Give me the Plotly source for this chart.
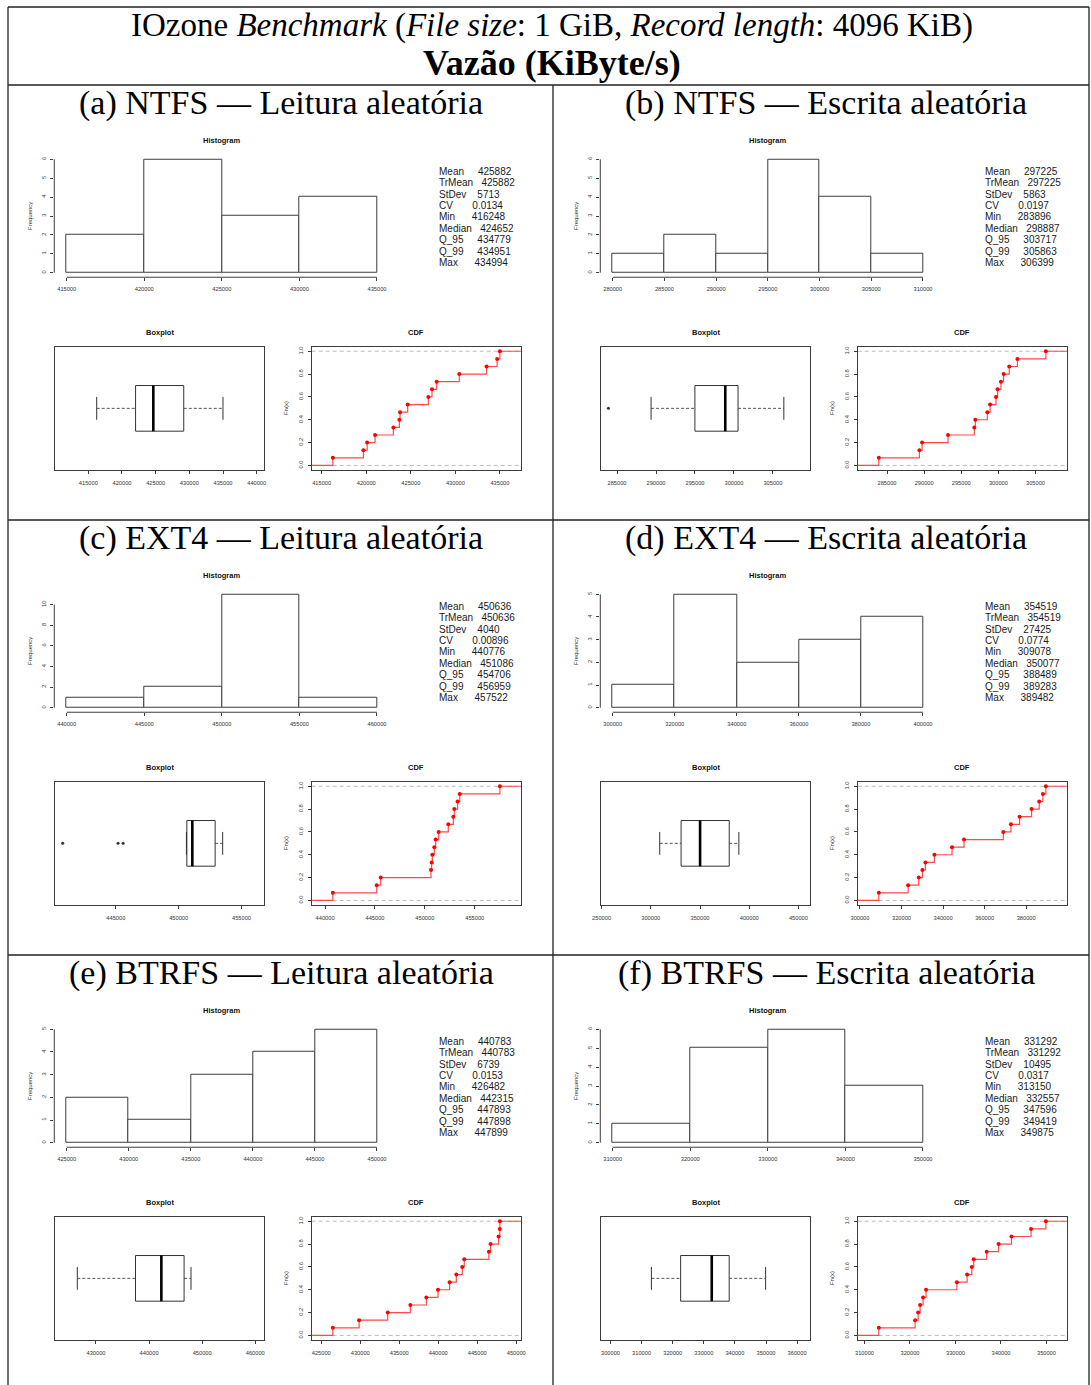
import numpy as np
import plotly.graph_objects as go

W, H = 1091, 1385

# ---------------- data: 15 runs each, throughput in KiB/s ----------------
ntfs_read = [416248, 419683, 420100, 420990, 423044, 423716, 423791, 424652,
             426965, 427376, 427899, 430438, 433500, 434687, 434994]
ntfs_write = [283896, 289364, 289723, 293219, 296760, 296895, 298508, 298887,
              299673, 299897, 300345, 300704, 301466, 302567, 306399]
ext4_read = [440776, 445179, 445580, 450617, 450684, 450750, 450950, 451086,
             451384, 452351, 452852, 452952, 453285, 453499, 457522]
ext4_write = [309078, 323173, 328298, 330060, 331501, 335826, 344315, 350077,
              369000, 372663, 376828, 382594, 386278, 388063, 389482]
btrfs_read = [426482, 429852, 433522, 436423, 438471, 439964, 441457, 442315,
              443078, 443334, 446491, 446705, 447729, 447890, 447899]
btrfs_write = [313150, 321135, 321790, 322227, 322882, 323537, 330306, 332557,
               333581, 334017, 336856, 339476, 342314, 346619, 349875]

stat_labels = ["Mean", "TrMean", "StDev", "CV", "Min", "Median", "Q_95", "Q_99", "Max"]
stats_ntfs_read = ["425882", "425882", "5713", "0.0134", "416248", "424652", "434779", "434951", "434994"]
stats_ntfs_write = ["297225", "297225", "5863", "0.0197", "283896", "298887", "303717", "305863", "306399"]
stats_ext4_read = ["450636", "450636", "4040", "0.00896", "440776", "451086", "454706", "456959", "457522"]
stats_ext4_write = ["354519", "354519", "27425", "0.0774", "309078", "350077", "388489", "389283", "389482"]
stats_btrfs_read = ["440783", "440783", "6739", "0.0153", "426482", "442315", "447893", "447898", "447899"]
stats_btrfs_write = ["331292", "331292", "10495", "0.0317", "313150", "332557", "347596", "349419", "349875"]

panel_titles = ["(a) NTFS — Leitura aleatória", "(b) NTFS — Escrita aleatória",
                "(c) EXT4 — Leitura aleatória", "(d) EXT4 — Escrita aleatória",
                "(e) BTRFS — Leitura aleatória", "(f) BTRFS — Escrita aleatória"]
title_line1 = "IOzone <i>Benchmark</i> (<i>File size</i>: 1 GiB, <i>Record length</i>: 4096 KiB)"
title_line2 = "<b>Vazão (KiByte/s)</b>"

hist_start = [415000, 280000, 440000, 300000, 425000, 310000]
hist_end = [435000, 310000, 460000, 400000, 450000, 350000]
hist_size = [5000, 5000, 5000, 20000, 5000, 10000]
hist_ytick_step = [1, 1, 2, 1, 1, 1]
box_xlim = [(410056, 441084), (282943, 309756), (440164, 456787),
            (249435, 461746), (422282, 461649), (296945, 364147)]
box_dtick = [5000, 5000, 5000, 50000, 10000, 10000]
cdf_dtick = [5000, 5000, 5000, 20000, 5000, 10000]

datasets = [ntfs_read, ntfs_write, ext4_read, ext4_write, btrfs_read, btrfs_write]
stats = [stats_ntfs_read, stats_ntfs_write, stats_ext4_read, stats_ext4_write,
         stats_btrfs_read, stats_btrfs_write]

# ---------------- geometry (pixels, panel (a) reference) ----------------
COL_DX = [0, 546]
ROW_DY = [0, 435, 870]
HIST_TICK_X = (66.7, 377.0)
HIST_ZERO_Y, HIST_TOP_Y = 272.7, 159.3
BOX_FRAME_X = (55.0, 264.0)
CDF_FRAME_X = (311.7, 521.0)
LOW_FRAME_Y = (346.7, 470.0)
STATS_X, STATS_Y0, STATS_DY = 437.0, 171.3, 11.42
SUBTITLE_Y = 332.3
HIST_TITLE_Y = 140.0
PANEL_TITLE_Y = 103.0
PANEL_TITLE_X = [281.0, 826.0]

LINE = "#3c3c3c"
SANS = "Liberation Sans, Arial, sans-serif"
SERIF = "Liberation Serif, Times New Roman, serif"
TICKFONT = dict(family=SANS, size=5.7, color="#333")


def fx(p):
    return p / W


def fy(p):
    return 1 - p / H


def keys(k):
    s = "" if k == 1 else str(k)
    return "x" + s, "y" + s, "xaxis" + s, "yaxis" + s


def fivenum(v):
    x = np.sort(np.asarray(v, float))
    n = len(x)
    n4 = np.floor((n + 3) / 2) / 2
    d = np.array([1, n4, (n + 1) / 2, n + 1 - n4, n]) - 1
    return 0.5 * (x[np.floor(d).astype(int)] + x[np.ceil(d).astype(int)])


def ecdf_xlim(v):
    x = np.sort(np.asarray(v, float))
    r = x[-1] - x[0]
    dr = max(0.08 * r, np.median(np.diff(np.unique(x))))
    lo, hi = x[0] - dr, x[-1] + dr
    pad = 0.04 * (hi - lo)
    return lo - pad, hi + pad


fig = go.Figure()
layout_axes = {}
shapes = []
annotations = []


def ann(text, x, y, size, family=SANS, color="#111", xanchor="center", angle=0):
    annotations.append(dict(text=text, x=fx(x), y=fy(y), xref="paper", yref="paper",
                            showarrow=False, xanchor=xanchor, yanchor="middle",
                            textangle=angle, font=dict(family=family, size=size, color=color)))


def axis(**kw):
    d = dict(showgrid=False, zeroline=False, showline=False, ticks="", showticklabels=False,
             tickfont=TICKFONT, fixedrange=True, tickcolor=LINE, ticklen=3, tickwidth=1,
             automargin=False)
    d.update(kw)
    return d


for p, vals in enumerate(datasets):
    col, row = p % 2, p // 2
    dx, dy = COL_DX[col], ROW_DY[row]
    v = np.asarray(vals, float)

    # ---------- histogram ----------
    k = 3 * p + 1
    xa, ya, xk, yk = keys(k)
    b0, bn, sz = hist_start[p], hist_end[p], hist_size[p]
    edges = np.arange(b0, bn + sz / 2, sz)
    counts, _ = np.histogram(v, bins=edges)
    M = counts.max()
    span_px = HIST_TICK_X[1] - HIST_TICK_X[0]
    hx0, hx1 = HIST_TICK_X[0] - 0.04 * span_px + dx, HIST_TICK_X[1] + 0.04 * span_px + dx
    vspan = HIST_ZERO_Y - HIST_TOP_Y
    hy_top, hy_bot = HIST_TOP_Y - 0.04 * vspan + dy, HIST_ZERO_Y + 0.04 * vspan + dy
    fig.add_trace(go.Histogram(x=v, xbins=dict(start=b0, end=bn, size=sz), autobinx=False,
                               marker=dict(color="white", line=dict(color=LINE, width=1)),
                               xaxis=xa, yaxis=ya, hoverinfo="skip", showlegend=False))
    step = hist_ytick_step[p]
    yt = np.arange(0, M + 0.001, step)
    layout_axes[xk] = axis(domain=[fx(hx0), fx(hx1)], anchor=ya,
                           range=[b0 - 0.04 * (bn - b0), bn + 0.04 * (bn - b0)],
                           tickvals=list(edges), ticks="outside", showticklabels=True,
                           tickformat="d", ticklabelstandoff=3)
    layout_axes[yk] = axis(domain=[fy(hy_bot), fy(hy_top)], anchor=xa,
                           range=[-0.04 * M, 1.04 * M], tickvals=list(yt),
                           ticks="outside", showticklabels=True, tickangle=-90,
                           ticklabelstandoff=2)
    shapes.append(dict(type="line", xref=xa, yref=ya + " domain", x0=b0, x1=bn, y0=0, y1=0,
                       line=dict(color=LINE, width=1)))
    shapes.append(dict(type="line", xref=xa + " domain", yref=ya, x0=0, x1=0, y0=0, y1=yt[-1],
                       line=dict(color=LINE, width=1)))
    ann("<b>Histogram</b>", (HIST_TICK_X[0] + HIST_TICK_X[1]) / 2 + dx, HIST_TITLE_Y + dy, 7.5)
    ann("Frequency", 30 + dx, (hy_top + hy_bot) / 2, 6, color="#333", angle=-90)

    # ---------- stats text ----------
    for i, (lab, val) in enumerate(zip(stat_labels, stats[p])):
        txt = (lab.ljust(8) + " " + val).replace(" ", "\u00a0")
        ann(txt, STATS_X + dx, STATS_Y0 + i * STATS_DY + dy, 10, color="#1a1a1a", xanchor="left")

    # ---------- boxplot ----------
    k = 3 * p + 2
    xa, ya, xk, yk = keys(k)
    mn, q1, med, q3, mx = fivenum(v)
    iqr = q3 - q1
    inside = v[(v >= q1 - 1.5 * iqr) & (v <= q3 + 1.5 * iqr)]
    lw, uw = inside.min(), inside.max()
    outl = v[(v < q1 - 1.5 * iqr) | (v > q3 + 1.5 * iqr)]
    fig.add_trace(go.Scatter(x=[lw, q1, None, q3, uw], y=[1, 1, None, 1, 1], mode="lines",
                             line=dict(color="#555", width=1, dash="3px,2px"),
                             xaxis=xa, yaxis=ya, hoverinfo="skip", showlegend=False))
    fig.add_trace(go.Scatter(x=[q1, q3, q3, q1, q1, None, lw, lw, None, uw, uw],
                             y=[0.8, 0.8, 1.2, 1.2, 0.8, None, 0.9, 1.1, None, 0.9, 1.1],
                             mode="lines", line=dict(color="#333", width=1),
                             xaxis=xa, yaxis=ya, hoverinfo="skip", showlegend=False))
    fig.add_trace(go.Scatter(x=[med, med], y=[0.8, 1.2], mode="lines",
                             line=dict(color="#000", width=2.6),
                             xaxis=xa, yaxis=ya, hoverinfo="skip", showlegend=False))
    if len(outl):
        fig.add_trace(go.Scatter(x=outl, y=np.ones(len(outl)), mode="markers",
                                 marker=dict(color="#333", size=3),
                                 xaxis=xa, yaxis=ya, hoverinfo="skip", showlegend=False,
                                 cliponaxis=True))
    layout_axes[xk] = axis(domain=[fx(BOX_FRAME_X[0] + dx), fx(BOX_FRAME_X[1] + dx)], anchor=ya,
                           range=list(box_xlim[p]), tick0=0, dtick=box_dtick[p],
                           ticks="outside", showticklabels=True, tickformat="d",
                           showline=True, mirror=True, linecolor=LINE, linewidth=1,
                           ticklabelstandoff=4)
    layout_axes[yk] = axis(domain=[fy(LOW_FRAME_Y[1] + dy), fy(LOW_FRAME_Y[0] + dy)], anchor=xa,
                           range=[0.46, 1.54], showline=True, mirror=True,
                           linecolor=LINE, linewidth=1)
    ann("<b>Boxplot</b>", (BOX_FRAME_X[0] + BOX_FRAME_X[1]) / 2 + dx, SUBTITLE_Y + dy, 7.5)

    # ---------- CDF ----------
    k = 3 * p + 3
    xa, ya, xk, yk = keys(k)
    xs = np.sort(v)
    n = len(xs)
    F = np.arange(1, n + 1) / n
    lo, hi = ecdf_xlim(v)
    fig.add_trace(go.Scatter(x=np.concatenate([[lo], xs, [hi]]), y=np.concatenate([[0], F, [1]]),
                             mode="lines", line=dict(color="#ff4a4a", width=1.2, shape="hv"),
                             xaxis=xa, yaxis=ya, hoverinfo="skip", showlegend=False))
    fig.add_trace(go.Scatter(x=xs, y=F, mode="markers", marker=dict(color="#ff0000", size=4),
                             xaxis=xa, yaxis=ya, hoverinfo="skip", showlegend=False))
    for yl in (0, 1):
        shapes.append(dict(type="line", xref=xa + " domain", yref=ya, x0=0, x1=1, y0=yl, y1=yl,
                           layer="below", line=dict(color="#bdbdbd", width=1, dash="4px,3px")))
    layout_axes[xk] = axis(domain=[fx(CDF_FRAME_X[0] + dx), fx(CDF_FRAME_X[1] + dx)], anchor=ya,
                           range=[lo, hi], tick0=0, dtick=cdf_dtick[p],
                           ticks="outside", showticklabels=True, tickformat="d",
                           showline=True, mirror=True, linecolor=LINE, linewidth=1,
                           ticklabelstandoff=4)
    layout_axes[yk] = axis(domain=[fy(LOW_FRAME_Y[1] + dy), fy(LOW_FRAME_Y[0] + dy)], anchor=xa,
                           range=[-0.04, 1.04], tickvals=[0, 0.2, 0.4, 0.6, 0.8, 1.0],
                           tickformat=".1f", ticks="outside", showticklabels=True, tickangle=-90,
                           showline=True, mirror=True, linecolor=LINE, linewidth=1,
                           ticklabelstandoff=2)
    ann("<b>CDF</b>", (CDF_FRAME_X[0] + CDF_FRAME_X[1]) / 2 + dx, SUBTITLE_Y + dy, 7.5)
    ann("Fn(x)", 286.7 + dx, (LOW_FRAME_Y[0] + LOW_FRAME_Y[1]) / 2 + dy, 6, color="#333", angle=-90)

    # ---------- panel title ----------
    ann(panel_titles[p], PANEL_TITLE_X[col], PANEL_TITLE_Y + dy, 34, family=SERIF, color="#000")

# ---------------- header ----------------
ann(title_line1, 552, 25, 33, family=SERIF, color="#000")
ann(title_line2, 552, 63, 36, family=SERIF, color="#000")

# ---------------- table rules ----------------
RULE = dict(color="#222", width=1.3)
LEFT, RIGHT, MID = 8, 1089, 553
for yy in (7, 85, 520, 955):
    shapes.append(dict(type="line", xref="paper", yref="paper", x0=fx(LEFT), x1=fx(RIGHT),
                       y0=fy(yy), y1=fy(yy), line=RULE))
for xx, ytop in ((LEFT, 7), (RIGHT, 7), (MID, 85)):
    shapes.append(dict(type="line", xref="paper", yref="paper", x0=fx(xx), x1=fx(xx),
                       y0=fy(ytop), y1=0, line=RULE))

fig.update_layout(width=W, height=H,
                  margin=dict(l=0, r=0, t=0, b=0, pad=0, autoexpand=False), autosize=False,
                  paper_bgcolor="white", plot_bgcolor="rgba(0,0,0,0)",
                  showlegend=False, bargap=0, shapes=shapes, annotations=annotations,
                  **layout_axes)

fig.write_html("out.html", config={"responsive": False})
